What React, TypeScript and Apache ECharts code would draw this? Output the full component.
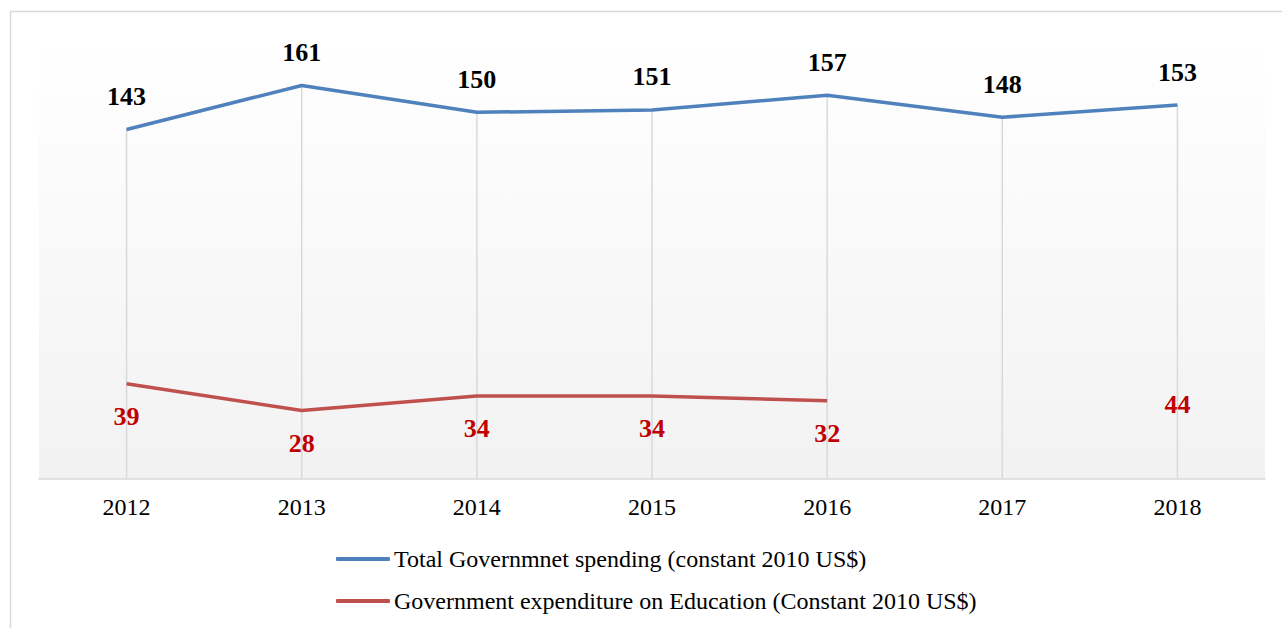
import React, { useEffect, useRef } from "react";
import * as echarts from "echarts";

const years = ["2012", "2013", "2014", "2015", "2016", "2017", "2018"];
const totalSpending = [143, 161, 150, 151, 157, 148, 153];
const educationSpending: (number | null)[] = [39, 28, 34, 34, 32, null, 44];
const totalName = "Total Governmnet spending (constant 2010 US$)";
const eduName = "Government expenditure on Education (Constant 2010 US$)";

const FONT = "'Liberation Serif', 'Times New Roman', serif";

export default function App() {
  const ref = useRef<HTMLDivElement>(null);
  useEffect(() => {
    if (!ref.current) return;
    const chart = echarts.init(ref.current, undefined, { renderer: "svg" });
    chart.setOption({
      animation: false,
      backgroundColor: "#ffffff",
      graphic: [
        {
          type: "rect",
          shape: { x: 10.5, y: 11.5, width: 1300, height: 700 },
          style: { fill: "none", stroke: "#d9d9d9", lineWidth: 1.5 },
          silent: true,
          z: -10,
        },
      ],
      grid: {
        left: 39,
        right: 17,
        top: 39,
        height: 440,
        show: true,
        borderWidth: 0,
        backgroundColor: new echarts.graphic.LinearGradient(0, 0, 0, 1, [
          { offset: 0, color: "#ffffff" },
          { offset: 1, color: "#f2f2f2" },
        ]),
      },
      legend: {
        orient: "vertical",
        left: 331,
        top: 541,
        data: [totalName, eduName],
        icon: "roundRect",
        itemWidth: 54,
        itemHeight: 4,
        itemGap: 16,
        textStyle: {
          fontFamily: FONT,
          fontSize: 24,
          color: "#000000",
          lineHeight: 26,
          padding: [0, 0, 0, -1],
        },
      },
      xAxis: {
        type: "category",
        data: years,
        boundaryGap: true,
        axisLine: { show: true, lineStyle: { color: "#d9d9d9", width: 1.5 } },
        axisTick: { show: false },
        axisLabel: {
          fontFamily: FONT,
          fontSize: 24,
          color: "#000000",
          margin: 16,
        },
        splitLine: { show: false },
      },
      yAxis: {
        type: "value",
        min: 0,
        max: 180,
        show: false,
        splitLine: { show: false },
      },
      series: [
        {
          name: "drop",
          type: "bar",
          data: totalSpending,
          barWidth: 1.5,
          itemStyle: { color: "#d9d9d9" },
          silent: true,
          z: 1,
        },
        {
          name: totalName,
          type: "line",
          data: totalSpending,
          symbol: "circle",
          symbolSize: 0,
          showSymbol: true,
          lineStyle: { color: "#4f81bd", width: 3.5 },
          itemStyle: { color: "#4f81bd" },
          label: {
            show: true,
            position: "top",
            distance: 20,
            fontFamily: FONT,
            fontSize: 26,
            fontWeight: "bold",
            color: "#000000",
          },
          z: 3,
        },
        {
          name: eduName,
          type: "line",
          data: educationSpending,
          connectNulls: false,
          symbol: "circle",
          symbolSize: 0,
          showSymbol: true,
          lineStyle: { color: "#c0504d", width: 3.5 },
          itemStyle: { color: "#c0504d" },
          label: {
            show: true,
            position: "bottom",
            distance: 20,
            fontFamily: FONT,
            fontSize: 26,
            fontWeight: "bold",
            color: "#c00000",
          },
          z: 3,
        },
      ],
    });
    return () => chart.dispose();
  }, []);
  return (
    <div
      ref={ref}
      style={{ position: "absolute", left: 0, top: 0, width: 1282, height: 628 }}
    />
  );
}
